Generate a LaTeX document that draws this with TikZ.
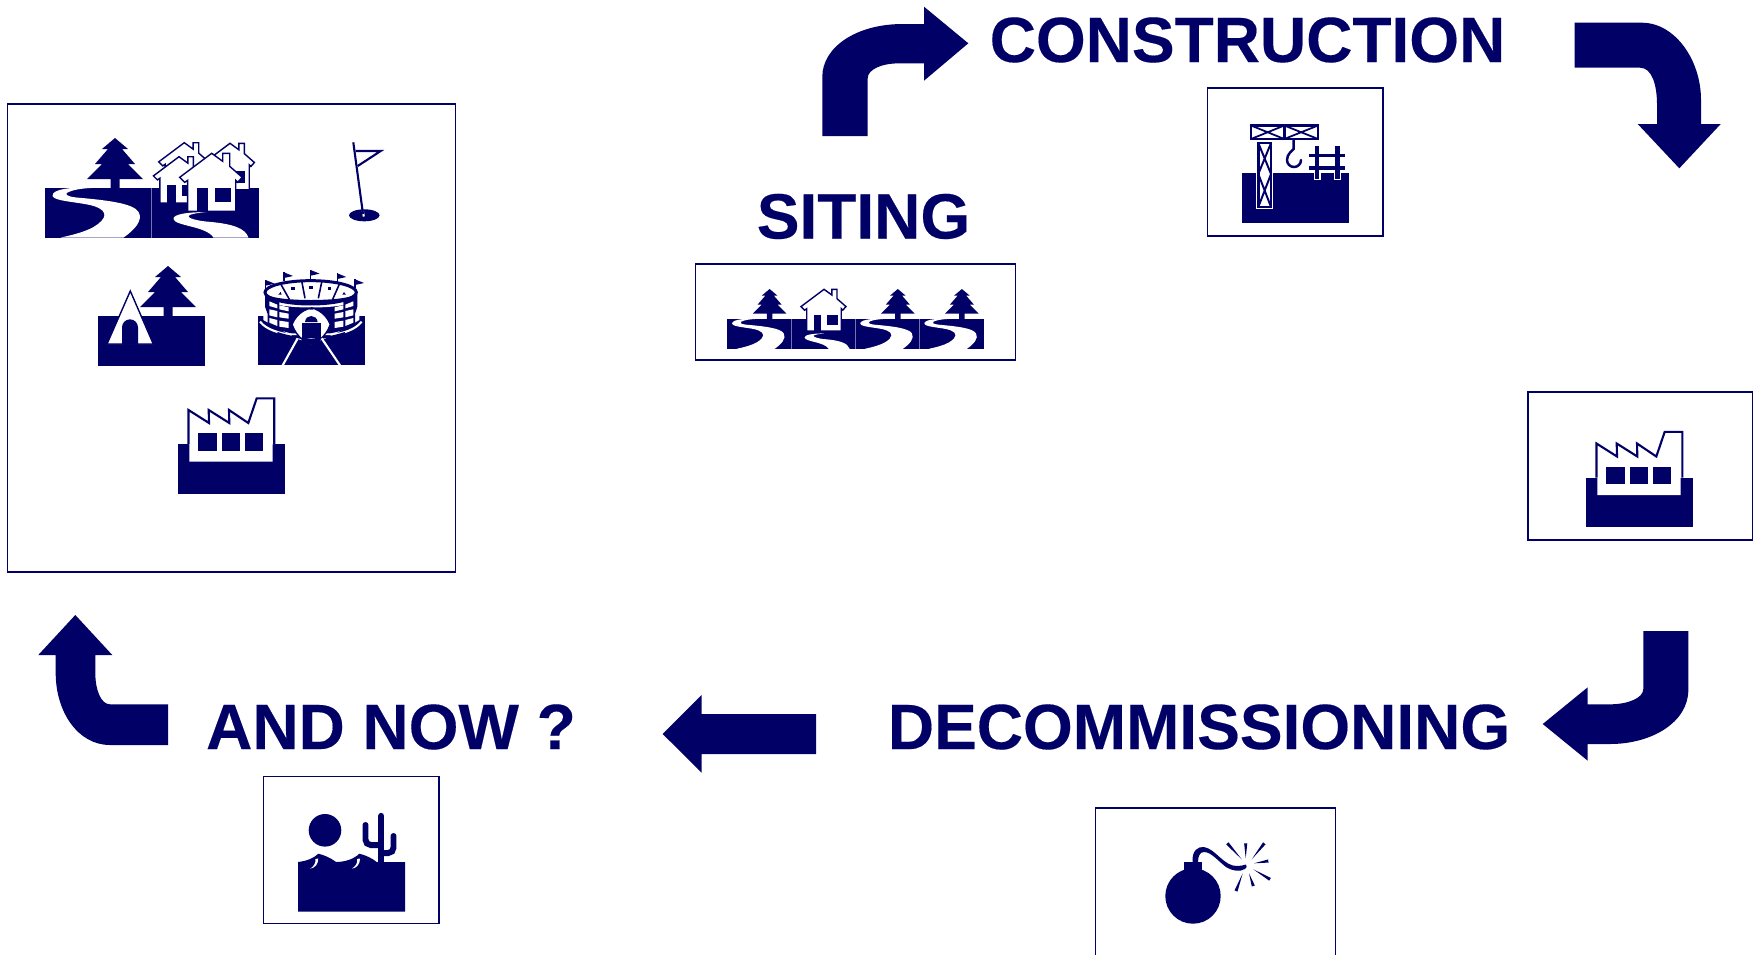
\documentclass[tikz,border=0pt]{standalone}
\usepackage{fontspec}
\setmainfont{Liberation Sans}
\newfontface\titleface[FakeBold=0.25]{Liberation Sans Bold}
\usetikzlibrary{calc}
\definecolor{navy}{HTML}{000066}
\tikzset{
  frame/.style={draw=navy,line width=0.3pt},
  ink/.style={fill=navy,draw=none},
  paper/.style={fill=white,draw=none},
  title/.style={font=\titleface\fontsize{18.2}{18.2}\selectfont,text=navy,inner sep=0pt,anchor=base},
  outlined/.style={fill=white,draw=navy,line width=0.4pt,line join=miter},
  seam/.style={draw=navy!55!white,line width=0.2pt},
  thinline/.style={draw=navy,line width=0.6pt},
  whitestroke/.style={draw=white,line width=0.55pt},
}
\newcommand{\slabat}[3]{\fill[navy] (#1,#2) rectangle +(107*#3,49.5*#3);}
\newcommand{\treeshape}{%
  \fill[navy] (0,-50) -- (13,-39) -- (7,-39) -- (20,-24) -- (13,-24) -- (28,-9) -- (4.5,-9) -- (4.5,1) -- (-4.5,1) -- (-4.5,-9) -- (-28,-9) -- (-13,-24) -- (-20,-24) -- (-7,-39) -- (-13,-39) -- cycle;}
\newcommand{\riverA}[3]{% slab with tree and river
  \begin{scope}[shift={(#1,#2)},scale=#3]
  \begin{scope}[shift={(70.5,0)}]\treeshape\end{scope}
  \fill[navy] (0,0) rectangle (107,49.5);
  \fill[white] (27,0) .. controls (15,1) and (7,4) .. (8,8) .. controls (10,14) and (40,14) .. (52,19)
     .. controls (62,23) and (64,30) .. (49,39) .. controls (40,44) and (28,47) .. (16,49.6) -- (79,49.6)
     .. controls (90,42) and (99,32) .. (94,24) .. controls (89,15) and (60,12) .. (32,9.5)
     .. controls (22,8.5) and (20,6) .. (23,4.5) .. controls (28,2) and (36,0.5) .. (46,0) -- cycle;
  \end{scope}}
\newcommand{\riverB}[3]{% slab with short river
  \begin{scope}[shift={(#1,#2)},scale=#3]
  \fill[navy] (0,0) rectangle (107,49.5);
  \fill[white] (55,24) .. controls (38,24) and (21,26) .. (22,31) .. controls (23,38) and (55,38) .. (62,49.6) -- (97,49.6)
     .. controls (94,40) and (80,36) .. (60,34) .. controls (45,33) and (36,30) .. (37,28) .. controls (38,26) and (46,25) .. (55,24) -- cycle;
  \end{scope}}
\newcommand{\houseshape}[3]{% apex position, scale
  \begin{scope}[shift={(#1,#2)},scale=#3]
  \draw[outlined] (0,0) -- (11,8) -- (11,0) -- (18,0) -- (18,13) -- (30.5,24) -- (26,29) -- (24,27) -- (24,58) -- (-24,58) -- (-24,27) -- (-27,29) -- (-32,24) -- cycle;
  \fill[navy] (-14.5,35) rectangle (-3.5,58);
  \fill[navy] (3.5,35) rectangle (19,49);
  \end{scope}}
\newcommand{\factoryicon}[2]{%
  \begin{scope}[shift={(#1,#2)}]
  \fill[navy] (0,0) rectangle (107,49.5);
  \fill[white] (10,-34) -- (31,-20.7) -- (31,-34) -- (51.5,-20.7) -- (51.5,-34) -- (70.3,-20.7) -- (78.7,-45.7) -- (96,-45.7) -- (96,0) -- (94.7,0) -- (94.7,17.7) -- (11.3,17.7) -- (11.3,0) -- (10,0) -- cycle;
  \draw[navy,line width=0.6pt,line join=miter] (10.5,0) -- (10.5,-34) -- (31,-21) -- (30.7,-34) -- (51.3,-21) -- (51,-34) -- (70.3,-21) -- (78.7,-45.7) -- (96.3,-45.7) -- (96.3,0);
  \fill[navy] (20.3,-10.7) rectangle (38.7,6.7);
  \fill[navy] (43.7,-10.7) rectangle (62,6.7);
  \fill[navy] (67,-10.7) rectangle (85.3,6.7);
  \end{scope}}
\newcommand{\spark}[4]{\fill[navy] ($(#1,#2)!0.45pt!90:(#3,#4)$) -- ($(#1,#2)!0.45pt!-90:(#3,#4)$) -- (#3,#4) -- cycle;}
\begin{document}
\begin{tikzpicture}[x=0.01cm,y=-0.01cm]
\useasboundingbox (0,0) rectangle (1755,954);
\fill[white] (0,0) rectangle (1755,954);

% ---------- frames
\draw[frame] (7.5,104) rectangle (455.5,572);
\draw[frame] (695.5,264) rectangle (1015.5,360);
\draw[frame] (1207.5,88) rectangle (1383,236);
\draw[frame] (1528,392) rectangle (1752,540);
\draw[frame] (263.5,776.5) rectangle (439,923.5);
\draw[frame] (1095.5,960) -- (1095.5,808) -- (1335.5,808) -- (1335.5,960);

% ---------- titles
\node[title] (siting) at (863.5,238.5) {SITING};
\node[title] (construction) at (1247.5,62) {CONSTRUCTION};
\node[title] (decommissioning) at (1199,749) {DECOMMISSIONING};
\node[title] (andnow) at (391,749) {AND NOW ?};

% ---------- arrows
\fill[navy] (822.3,136) -- (867.7,136) -- (867.7,78.3) .. controls (867.7,70) and (880,63.3) .. (900,63.3) -- (924,63.3) -- (924,80.7) -- (968.3,43.3) -- (924,6.7) -- (924,24) -- (903,24) .. controls (855,24) and (822.3,48) .. (822.3,76.7) -- cycle;
\fill[navy] (1574.7,22.7) -- (1641.7,22.7) .. controls (1675,22.7) and (1701,60) .. (1701,100) -- (1701,124) -- (1720.7,124) -- (1679.3,168.3) -- (1637.7,124) -- (1657,124) -- (1657,105) .. controls (1657,85) and (1652,67.7) .. (1640,67.7) -- (1574.7,67.7) -- cycle;
\fill[navy] (1643.3,631) -- (1688.3,631) -- (1688.3,690) .. controls (1688.3,722) and (1652,744) .. (1610,744) -- (1587.7,744) -- (1587.7,760.7) -- (1542.7,724) -- (1587.7,687.3) -- (1587.7,704.3) -- (1610,704.3) .. controls (1628,704.3) and (1643.3,698) .. (1643.3,689) -- cycle;
\fill[navy] (75.3,615) -- (112.3,655) -- (95.3,655) -- (95.3,673) .. controls (95.3,690) and (101,704.3) .. (110,704.3) -- (168,704.3) -- (168,745) -- (110,745) .. controls (78,745) and (55.7,712) .. (55.7,673) -- (55.7,655) -- (38.3,655) -- cycle;
\fill[navy] (662.7,734) -- (701.7,695) -- (701.7,714) -- (816,714) -- (816,754) -- (701.7,754) -- (701.7,772.7) -- cycle;

% ---------- big frame: river + houses
\riverA{44.5}{188}{1}
\riverB{151.5}{188}{1}
\draw[seam] (151.5,188) -- (151.5,237.5);
\houseshape{184.3}{142.7}{0.8}
\houseshape{230}{143.3}{0.8}
\houseshape{179}{156.7}{0.8}
\houseshape{211.7}{153.3}{1}

% golf flag
\fill[navy] (364.3,215.3) ellipse [x radius=15.3,y radius=6];
\draw[white,line width=0.6pt] (362.8,211) -- (363.8,216.5);
\draw[thinline] (353.3,142.3) -- (363,214);
\draw[thinline,line join=miter] (355.7,151) -- (380.7,151) -- (357.7,166);

% tent and tree
\begin{scope}[shift={(168,316)}]\treeshape\end{scope}
\slabat{98}{316}{1}
\draw[outlined] (130.3,291) -- (107,344) -- (153.3,344) -- cycle;
\fill[navy] (122,344.5) -- (122,327.3) arc [start angle=180,end angle=0,x radius=8,y radius=-8] -- (138,344.5) -- cycle;

% stadium (coordinates are those of the threefold crop)
\begin{scope}[shift={(0,90)},scale=1/3]
  \fill[navy] (774,678) rectangle (1094,826);
  \fill[white] (790,678) -- (1078,678) -- (1078,690) -- (1000,735) -- (870,735) -- (790,690) -- cycle;
  \draw[white,line width=0.6pt] (780,695) .. controls (800,720) and (840,730) .. (875,735);
  \draw[white,line width=0.6pt] (1085,695) .. controls (1065,720) and (1030,730) .. (992,735);
  % stands
  \fill[navy] (795,610) -- (795,650) -- (803,672) -- (803,698) .. controls (820,715) and (850,725) .. (875,730) -- (990,730) .. controls (1020,725) and (1050,715) .. (1065,698) -- (1065,672) -- (1072,650) -- (1072,610) -- cycle;
  \fill[white] (808,634) -- (832,644) -- (832,655) -- (808,648) -- cycle;
  \fill[white] (838,646) -- (866,652) -- (866,664) -- (838,658) -- cycle;
  \fill[white] (808,658) -- (832,663) -- (832,682) -- (808,676) -- cycle;
  \fill[white] (838,666) -- (866,671) -- (866,686) -- (838,682) -- cycle;
  \fill[white] (808,684) -- (832,690) -- (832,708) -- (808,698) -- cycle;
  \fill[white] (838,692) -- (866,696) -- (866,714) -- (838,710) -- cycle;
  \fill[white] (1060,634) -- (1036,644) -- (1036,655) -- (1060,648) -- cycle;
  \fill[white] (1030,646) -- (1004,652) -- (1004,664) -- (1030,658) -- cycle;
  \fill[white] (1060,658) -- (1036,663) -- (1036,682) -- (1060,676) -- cycle;
  \fill[white] (1030,666) -- (1004,671) -- (1004,686) -- (1030,682) -- cycle;
  \fill[white] (1060,684) -- (1036,690) -- (1036,708) -- (1060,698) -- cycle;
  \fill[white] (1030,692) -- (1004,696) -- (1004,714) -- (1030,710) -- cycle;
  \fill[white] (838,632) .. controls (880,648) and (985,648) .. (1030,632) -- (1030,645) .. controls (985,655) and (880,655) .. (838,645) -- cycle;
  % gate house
  \draw[outlined,rounded corners=6] (872,664) .. controls (910,658) and (960,658) .. (995,664) -- (995,742) -- (975,749) -- (892,749) -- (872,742) -- cycle;
  \fill[navy] (915,696) .. controls (917,672) and (950,672) .. (953,696) -- cycle;
  \fill[navy] (905,700) rectangle (962,745);
  % roads
  \draw[white,line width=0.6pt] (893,745) -- (848,826);
  \draw[white,line width=0.6pt] (965,745) -- (1020,826);
  % ring and seats
  \fill[white] (932,607) ellipse [x radius=140,y radius=37];
  \draw[navy,line width=0.85pt] (932,607) ellipse [x radius=137,y radius=35];
  \fill[navy] (803,615) .. controls (840,648) and (1025,648) .. (1062,615) .. controls (1030,635) and (835,635) .. (803,615) -- cycle;
  \draw[navy,line width=0.45pt] (840,578) -- (868,628);
  \draw[navy,line width=0.45pt] (905,572) -- (915,625);
  \draw[navy,line width=0.45pt] (966,572) -- (955,625);
  \draw[navy,line width=0.45pt] (1020,578) -- (998,628);
  \fill[navy] (874,591) rectangle (884,600);
  \fill[navy] (928,589) rectangle (938,597);
  \fill[navy] (984,591) rectangle (994,600);
  \fill[navy] (835,614) -- (842,606) -- (845,614) -- cycle;
  \fill[navy] (1027,614) -- (1032,606) -- (1038,614) -- cycle;
  % flags
  \foreach \fx/\fy in {797/570,852/547,932/540,1012/550,1065/568}{
    \draw[navy,line width=0.3pt] (\fx,\fy) -- (\fx,\fy+26);
    \fill[navy] (\fx,\fy) -- (\fx+27,\fy+11) -- (\fx,\fy+17) -- cycle;
  }
\end{scope}

% factories
\factoryicon{178}{444}
\factoryicon{1586}{477.5}

% siting strip
\riverA{727.3}{319}{0.6}
\riverB{791.4}{319}{0.6}
\riverA{855.5}{319}{0.6}
\riverA{919.6}{319}{0.6}
\foreach \sx in {791.4,855.5,919.6}{\draw[seam] (\sx,319) -- (\sx,348.7);}
\houseshape{824}{289.3}{0.72}

% construction
\begin{scope}[shift={(1242,173)}]
  \fill[navy] (0,0) rectangle (107,49.5);
  % boom
  \fill[white] (9,-47.5) rectangle (76,-34);
  \draw[navy,line width=0.7pt] (9,-47.5) rectangle (76,-34);
  \draw[navy,line width=0.7pt] (42.3,-47.5) -- (42.3,-34);
  \draw[navy,line width=0.5pt] (9,-47.5) -- (42.3,-34) (9,-34) -- (42.3,-47.5) (42.3,-47.5) -- (76,-34) (42.3,-34) -- (76,-47.5);
  % tower
  \fill[white] (13.7,-32) rectangle (31.3,36.3);
  \draw[navy,line width=0.7pt] (16.3,-30) rectangle (29,34);
  \draw[navy,line width=0.55pt] (16.3,-30) -- (29,1) -- (16.3,34) (29,-30) -- (16.3,1) -- (29,34);
  % hook
  \draw[navy,line width=0.7pt,line cap=round] (51.7,-33) -- (51.7,-24) .. controls (50,-22) and (45,-19) .. (45,-13) arc [start angle=180,end angle=360,x radius=7,y radius=-7];
  % fence
  \fill[white] (71.5,0) rectangle (78.5,7);
  \fill[white] (91.8,0) rectangle (98.8,7);
  \fill[navy] (72.8,-27.5) rectangle (77.2,6);
  \fill[navy] (93.1,-27.5) rectangle (97.5,6);
  \fill[navy] (67,-19.2) rectangle (103.3,-16);
  \fill[navy] (67,-6.6) rectangle (103.3,-3.4);
\end{scope}

% desert
\begin{scope}[shift={(298,862)}]
  \fill[navy] (27,-31.7) circle [radius=16.3];
  \fill[navy] (0,0) .. controls (9,-1) and (16,-4) .. (20.3,-8.3) .. controls (26,-7) and (33,-4) .. (38,0) .. controls (47,0) and (56,-3) .. (61.3,-8.3) .. controls (67,-7) and (74,-4) .. (78.7,0) -- (107,0) -- (107,49.5) -- (0,49.5) -- cycle;
  \fill[white] (20.3,-3.5) .. controls (20.3,2) and (17,6) .. (12,6.7) .. controls (15.5,5) and (18,1) .. (17.5,-3) -- cycle;
  \fill[white] (62,-3.5) .. controls (62,2) and (59,6) .. (53.7,6.7) .. controls (57,5) and (60,1) .. (59.2,-3) -- cycle;
  \draw[navy,line width=1.8pt,line cap=round] (83.3,-46) -- (83.3,0);
  \draw[navy,line width=1.7pt,line cap=round,rounded corners=1.5pt] (67.5,-37) -- (67.5,-17) -- (83,-17);
  \draw[navy,line width=1.7pt,line cap=round,rounded corners=1.5pt] (95.5,-26) -- (95.5,-9) -- (84,-9);
\end{scope}

% bomb
\fill[navy] (1193,896) circle [radius=27.7];
\fill[navy] (1184,861.7) rectangle (1201.7,875);
\fill[navy] (1192.5,862) .. controls (1192,850) and (1198,846.5) .. (1204,847) .. controls (1216,849) and (1224,867) .. (1238,866) .. controls (1241,866) and (1244,865) .. (1246,864.5) .. controls (1247,866) and (1247,868) .. (1245,869) .. controls (1240,872) and (1232,871) .. (1226,867) .. controls (1217,860) and (1211,852) .. (1204,852) .. controls (1200,852) and (1198,856) .. (1198,862) -- cycle;
\spark{1227.3}{843.3}{1241.7}{859.3}
\spark{1245.7}{843.3}{1245.7}{858.3}
\spark{1264.3}{843.3}{1251.7}{859.3}
\spark{1268.3}{861}{1254}{863.3}
\spark{1270}{879.3}{1253.3}{869.3}
\spark{1253.3}{886}{1249}{873.3}
\spark{1236}{891}{1242.7}{873.3}
\end{tikzpicture}
\end{document}
